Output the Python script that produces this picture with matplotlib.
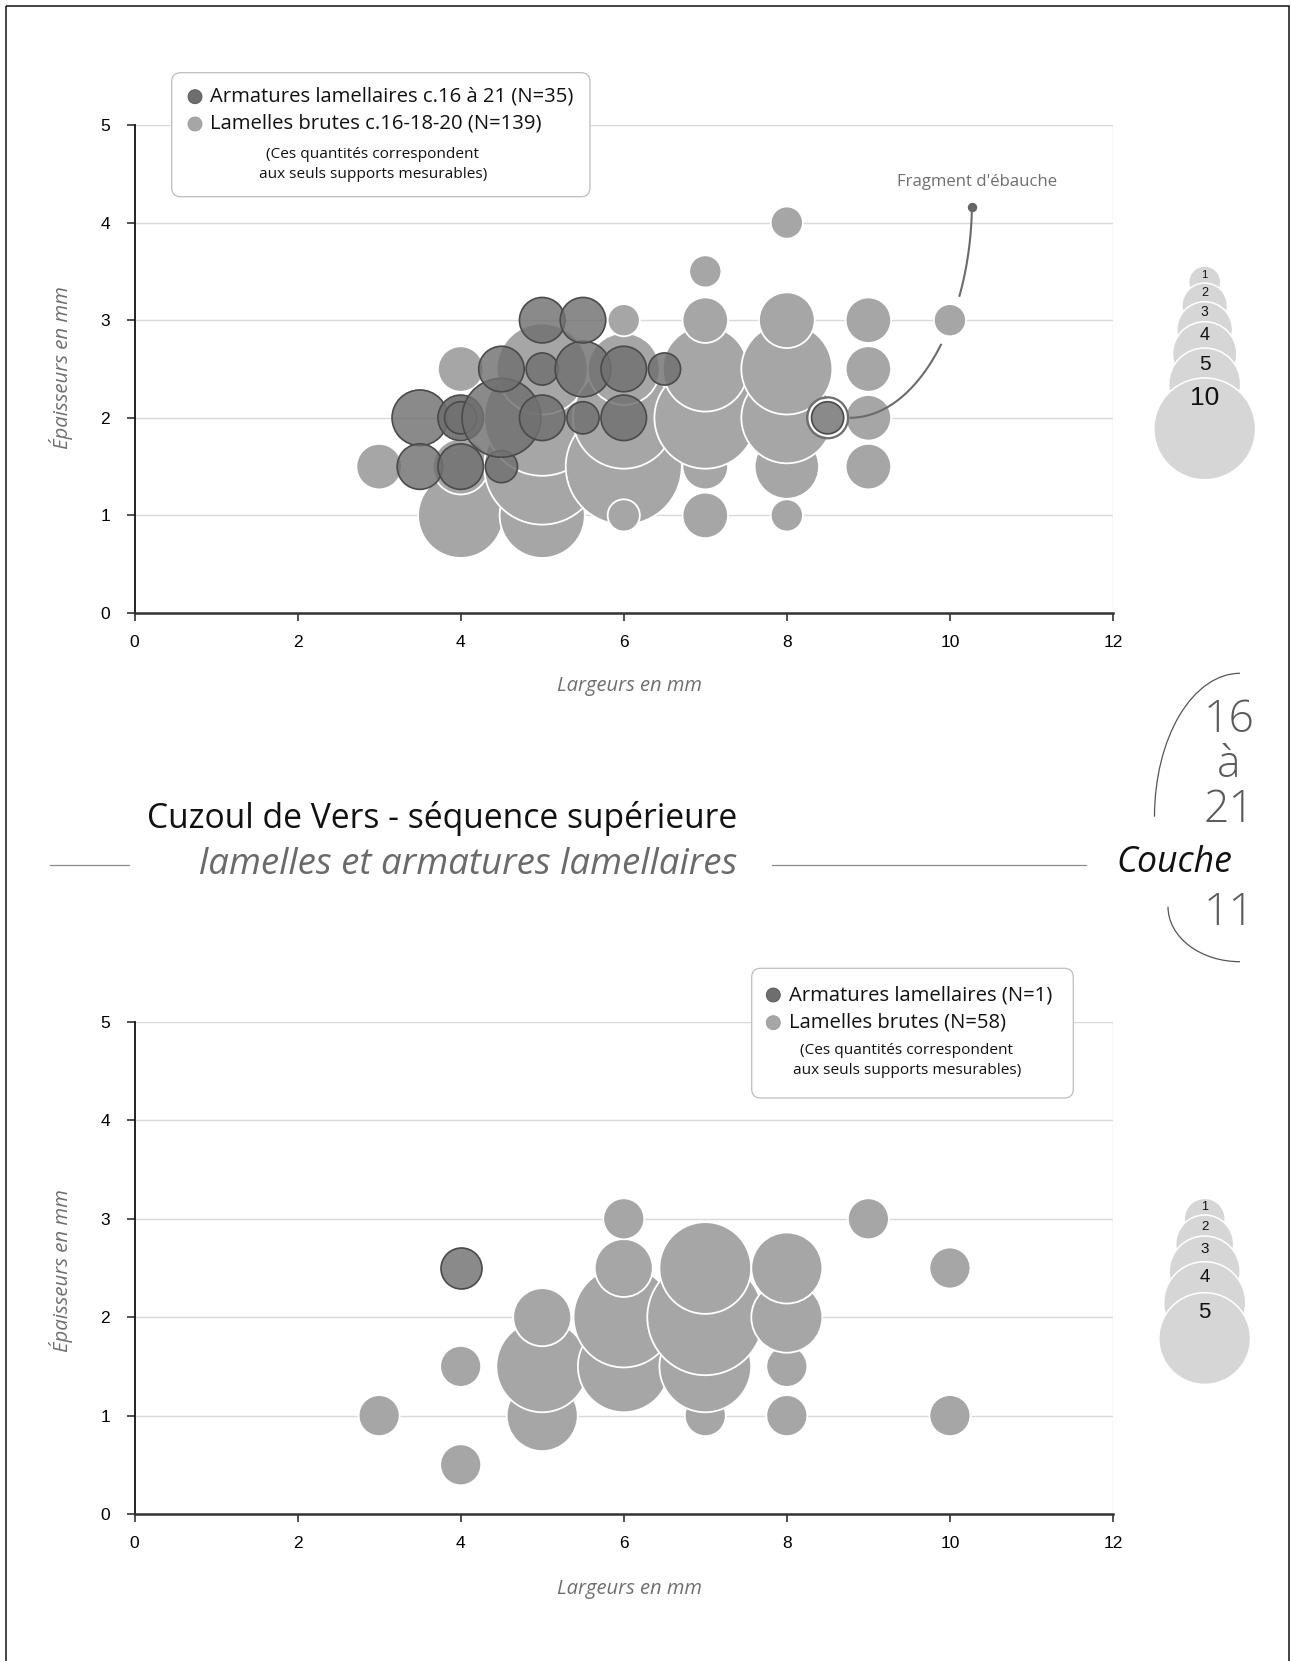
import numpy as np
import matplotlib
matplotlib.use("Agg")
import matplotlib.pyplot as plt
from matplotlib import font_manager as fm
from matplotlib.patches import FancyBboxPatch, Circle, Arc, Rectangle

# ---------------- data ----------------
# Upper chart : couches 16 à 21
lb_top_x = [3, 4, 4, 4, 4, 5, 5, 5, 5, 6, 6, 6, 6, 6, 7, 7, 7, 7, 7, 7, 8, 8, 8, 8, 8, 8, 9, 9, 9, 9, 10]
lb_top_y = [1.5, 1, 1.5, 2, 2.5, 1, 1.5, 2, 2.5, 1.5, 2, 2.5, 3, 1, 1, 1.5, 2, 2.5, 3, 3.5, 1, 1.5, 2, 2.5, 3, 4, 1.5, 2, 2.5, 3, 3]
lb_top_n = [2, 7, 3, 2, 2, 7, 13, 13, 8, 13, 10, 5, 1, 1, 2, 2, 10, 7, 2, 1, 1, 4, 8, 8, 3, 1, 2, 2, 2, 2, 1]

ar_top_x = [3.5, 3.5, 4, 4, 4, 4.5, 4.5, 4.5, 5, 5, 5, 5.5, 5.5, 5.5, 6, 6, 6.5, 8.5]
ar_top_y = [2, 1.5, 1.5, 2, 2, 1.5, 2, 2.5, 2, 2.5, 3, 2, 2.5, 3, 2, 2.5, 2.5, 2]
ar_top_n = [3, 2, 2, 2, 1, 1, 6, 2, 2, 1, 2, 1, 3, 2, 2, 2, 1, 1]

# Lower chart : couche 11
lb_bot_x = [3, 4, 4, 5, 5, 5, 6, 6, 6, 6, 7, 7, 7, 7, 8, 8, 8, 8, 9, 10, 10]
lb_bot_y = [1, 0.5, 1.5, 1, 1.5, 2, 1.5, 2, 2.5, 3, 1, 1.5, 2, 2.5, 1, 1.5, 2, 2.5, 3, 1, 2.5]
lb_bot_n = [1, 1, 1, 3, 5, 2, 5, 6, 2, 1, 1, 5, 8, 5, 1, 1, 3, 3, 1, 1, 1]

ar_bot_x = [4]
ar_bot_y = [2.5]
ar_bot_n = [1]

size_legend_top = [1, 2, 3, 4, 5, 10]
size_legend_bot = [1, 2, 3, 4, 5]

x_ticks = [0, 2, 4, 6, 8, 10, 12]
y_ticks = [0, 1, 2, 3, 4, 5]

legend_top_labels = ["Armatures lamellaires c.16 à 21 (N=35)", "Lamelles brutes c.16-18-20 (N=139)"]
legend_bot_labels = ["Armatures lamellaires (N=1)", "Lamelles brutes (N=58)"]
legend_note = "(Ces quantités correspondent\naux seuls supports mesurables)"

# ---------------- layout / style ----------------
W, H = 1291, 1661
DPI = 100
PT = 72.0 / DPI
D_MAX = 116.0  # px diameter of the biggest bubble of a chart

LIGHT = "#a6a6a6"
DARK_FC = (0.44, 0.44, 0.44, 0.82)
DARK_EC = "#4a4a4a"
GRID = "#d9d9d9"

avail = {f.name for f in fm.fontManager.ttflist}


def pick(*names):
    for n in names:
        if n in avail:
            return n
    return "DejaVu Sans"


HUMAN = pick("Open Sans", "Noto Sans", "Lato")
NARROW = pick("Liberation Sans Narrow", "Arial Narrow", "Liberation Sans")
ARIAL = pick("Liberation Sans", "DejaVu Sans")

fig = plt.figure(figsize=(W / DPI, H / DPI), dpi=DPI)
fig.patch.set_facecolor("white")


def px_axes(x0, y_top, x1, y_bot):
    return [x0 / W, 1 - y_bot / H, (x1 - x0) / W, (y_bot - y_top) / H]


ax_top = fig.add_axes(px_axes(134.5, 125, 1113, 613))
ax_bot = fig.add_axes(px_axes(134.5, 1022, 1113, 1514))


def style_axes(ax):
    ax.set_xlim(0, 12)
    ax.set_ylim(0, 5)
    ax.set_xticks(x_ticks)
    ax.set_yticks(y_ticks)
    for yv in y_ticks[1:]:
        ax.axhline(yv, color=GRID, lw=1.0, zorder=0.5)
    ax.axvline(12, color=GRID, lw=1.0, zorder=0.5)
    ax.spines["top"].set_visible(False)
    ax.spines["right"].set_visible(False)
    ax.spines["left"].set_color("#111111")
    ax.spines["left"].set_linewidth(1.3)
    ax.spines["bottom"].set_color("#333333")
    ax.spines["bottom"].set_linewidth(1.8)
    ax.spines["left"].set_zorder(6)
    ax.spines["bottom"].set_zorder(6)
    ax.tick_params(axis="both", direction="out", length=5.5, width=1.1, color="#222222",
                   labelsize=12.5)
    ax.tick_params(axis="x", pad=10)
    ax.tick_params(axis="y", pad=12)
    for lab in ax.get_xticklabels() + ax.get_yticklabels():
        lab.set_fontfamily(NARROW)
    ax.set_facecolor("white")


def diam(vals, vmax):
    return D_MAX * np.sqrt(np.asarray(vals, float) / vmax)


def bubbles(ax, lx, ly, ln, dx, dy, dn):
    vmax = max(max(ln), max(dn))
    dl = diam(ln, vmax)
    dd = diam(dn, vmax)
    ax.scatter(lx, ly, s=(dl * PT) ** 2, c=LIGHT, edgecolors="white", linewidths=1.3, zorder=3)
    ax.scatter(dx, dy, s=(dd * PT) ** 2, c=[DARK_FC], edgecolors=DARK_EC, linewidths=1.2, zorder=4)
    return vmax


style_axes(ax_top)
style_axes(ax_bot)
vmax_top = bubbles(ax_top, lb_top_x, lb_top_y, lb_top_n, ar_top_x, ar_top_y, ar_top_n)
vmax_bot = bubbles(ax_bot, lb_bot_x, lb_bot_y, lb_bot_n, ar_bot_x, ar_bot_y, ar_bot_n)

# ---- "Fragment d'ébauche" annotation (upper chart) ----
ring_pt = (8.5, 2.0)
ax_top.scatter([ring_pt[0]], [ring_pt[1]], s=(38 * PT) ** 2, c="white", edgecolors="none", zorder=3.6)
ax_top.scatter([ring_pt[0]], [ring_pt[1]], s=(41 * PT) ** 2, facecolors="none",
               edgecolors="#6e6e6e", linewidths=1.6, zorder=3.7)

P0, P1, P2, P3 = (8.77, 2.0), (9.6, 2.0), (10.25, 3.0), (10.27, 4.16)
t = np.linspace(0, 1, 400)
bx = (1 - t) ** 3 * P0[0] + 3 * (1 - t) ** 2 * t * P1[0] + 3 * (1 - t) * t ** 2 * P2[0] + t ** 3 * P3[0]
by = (1 - t) ** 3 * P0[1] + 3 * (1 - t) ** 2 * t * P1[1] + 3 * (1 - t) * t ** 2 * P2[1] + t ** 3 * P3[1]
disp = ax_top.transData.transform(np.column_stack([bx, by]))
gap_c = ax_top.transData.transform([(10, 3)])[0]
dist = np.hypot(disp[:, 0] - gap_c[0], disp[:, 1] - gap_c[1])
by_m = np.where(dist < 25, np.nan, by)
ax_top.plot(bx, by_m, color="#6b6b6b", lw=1.5, zorder=5, solid_capstyle="butt")
ax_top.scatter([P3[0]], [P3[1]], s=(8 * PT) ** 2, c="#666666", zorder=5)

# ---------------- overlay in pixel coordinates ----------------
ov = fig.add_axes([0, 0, 1, 1])
ov.set_xlim(0, W)
ov.set_ylim(H, 0)
ov.axis("off")
ov.patch.set_alpha(0)

renderer = fig.canvas.get_renderer()


def fit_text(x, y, s, width, vertical=False, **kw):
    tt = ov.text(x, y, s, **kw)
    bb = tt.get_window_extent(renderer=renderer)
    cur = bb.height if vertical else bb.width
    tt.set_fontsize(tt.get_fontsize() * width / cur)
    return tt


# outer frame
ov.add_patch(Rectangle((6, 6), 1283, 1700, fill=False, ec="#111111", lw=1.1))

# axis titles
for (cx, cy, ly) in [(629, 686, 368), (629, 1589, 1271)]:
    fit_text(cx, cy, "Largeurs en mm", 146, ha="center", va="center", family=HUMAN,
             style="italic", color="#6f6f6f", fontsize=14)
    fit_text(61, ly, "Épaisseurs en mm", 164, vertical=True, ha="center", va="center",
             family=HUMAN, style="italic", color="#6f6f6f", fontsize=14, rotation=90)


# legends
def draw_legend(box, mk_x, mk_ys, txt_x, labels, w_first, note_xy, note_w):
    x0, y0, x1, y1 = box
    ov.add_patch(FancyBboxPatch((x0, y0), x1 - x0, y1 - y0,
                                boxstyle="round,pad=0,rounding_size=9",
                                fc="white", ec="#bdbdbd", lw=0.9, zorder=5))
    cols = [(0.43, 0.43, 0.43), LIGHT]
    ecs = ["#555555", "#9a9a9a"]
    for yy, c, e in zip(mk_ys, cols, ecs):
        ov.add_patch(Circle((mk_x, yy), 7, fc=c, ec=e, lw=0.6, zorder=6))
    t1 = fit_text(txt_x, mk_ys[0], labels[0], w_first, ha="left", va="center",
                  family=HUMAN, color="#111111", fontsize=14, zorder=6)
    ov.text(txt_x, mk_ys[1], labels[1], ha="left", va="center", family=HUMAN,
            color="#111111", fontsize=t1.get_fontsize(), zorder=6)
    nt = ov.text(note_xy[0], note_xy[1], legend_note.split("\n")[0], ha="center", va="center",
                 family=HUMAN, color="#111111", fontsize=10, zorder=6)
    bb = nt.get_window_extent(renderer=renderer)
    fs = 10 * note_w / bb.width
    nt.set_fontsize(fs)
    ov.text(note_xy[0], note_xy[1] + 19, legend_note.split("\n")[1], ha="center", va="center",
            family=HUMAN, color="#111111", fontsize=fs, zorder=6)


draw_legend((171.7, 72.7, 590, 196.7), 195, (96.7, 124), 210, legend_top_labels, 365,
            (373, 155), 212)
draw_legend((751.7, 968.3, 1073.3, 1098), 773.3, (995, 1022.7), 789.3, legend_bot_labels, 264,
            (906.7, 1051), 212)

# fragment label
fit_text(977, 182, "Fragment d'ébauche", 160, ha="center", va="center", family=HUMAN,
         color="#6f6f6f", fontsize=12)


# size legends
def size_legend(vals, vmax, cx, tops, lab_off, lab_fs):
    ds = diam(vals, vmax)
    for v, d, tp, lo, fs in zip(vals, ds, tops, lab_off, lab_fs):
        ov.add_patch(Circle((cx, tp + d / 2), d / 2, fc="#d6d6d6", ec="white", lw=1.1, zorder=4))
        ov.text(cx, tp + lo, str(v), ha="center", va="center", family=ARIAL,
                fontsize=fs, color="#111111", zorder=5)


size_legend(size_legend_top, vmax_top, 1204.7,
            [266, 283, 301.7, 321.7, 348, 378], [9, 10, 10, 14, 16, 20], [8, 9, 10, 13, 15, 19])
size_legend(size_legend_bot, vmax_bot, 1204.7,
            [1198.3, 1215, 1236, 1261.7, 1292.7], [8.4, 11.7, 13, 16, 20], [9, 9.5, 11, 13.5, 16])

# central title block
fit_text(737, 818, "Cuzoul de Vers - séquence supérieure", 590, ha="right", va="center",
         color="#111111", fontsize=22, family=HUMAN)
fit_text(737, 865, "lamelles et armatures lamellaires", 537, ha="right", va="center",
         style="italic", color="#6a6a6a", fontsize=22, family=HUMAN)
ov.plot([50, 129], [865, 865], color="#8c8c8c", lw=0.9)
ov.plot([772, 1086], [865, 865], color="#8c8c8c", lw=0.9)
fit_text(1174, 863, "Couche", 116, ha="center", va="center", style="italic",
         color="#111111", fontsize=22, family=HUMAN)
ov.text(1229, 766, "16\nà\n21", ha="center", va="center", multialignment="center",
        linespacing=1.02, color="#5a5a5a", fontsize=32, family=HUMAN, fontweight="light")
ov.text(1229, 914, "11", ha="center", va="center", color="#5a5a5a", fontsize=32,
        family=HUMAN, fontweight="light")
ov.add_patch(Arc((1240, 816.7), 2 * 85.5, 2 * 143.4, theta1=180, theta2=270,
                 color="#555555", lw=0.9))
ov.add_patch(Arc((1240, 906.7), 2 * 72, 2 * 55, theta1=90, theta2=180,
                 color="#555555", lw=0.9))

fig.savefig("out.png", dpi=DPI, facecolor="white")
